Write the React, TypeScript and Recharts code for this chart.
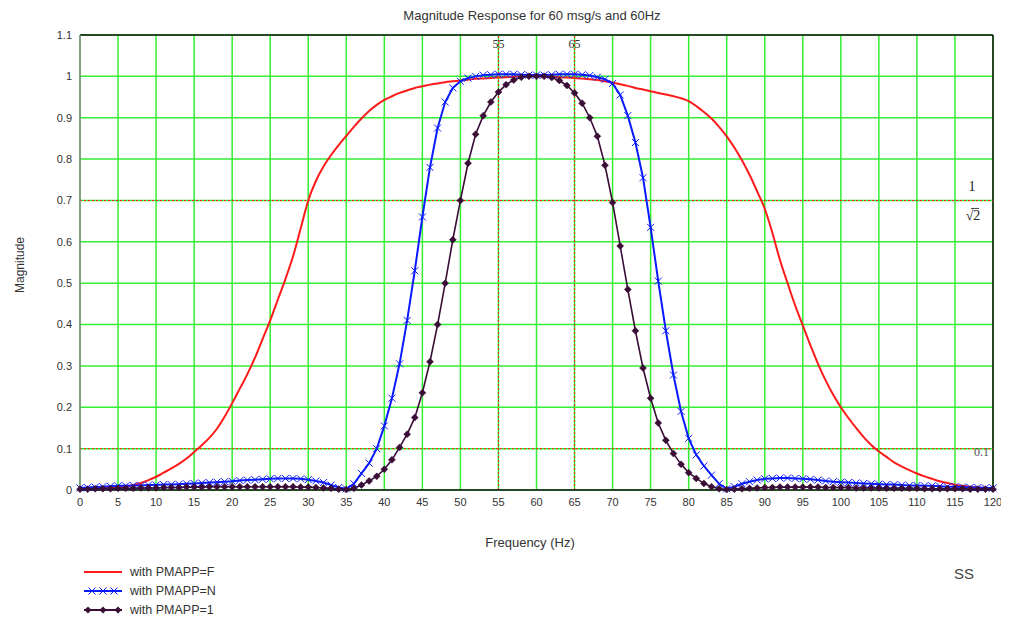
import React from 'react';
import {
  LineChart, Line, XAxis, YAxis, CartesianGrid, ReferenceLine, Legend
} from 'recharts';

// frequency axis, 1 Hz steps from 0 to 120
const freqs: number[] = [
  0, 1, 2, 3, 4, 5, 6, 7, 8, 9, 10, 11, 12, 13, 14, 15, 16, 17, 18, 19,
  20, 21, 22, 23, 24, 25, 26, 27, 28, 29, 30, 31, 32, 33, 34, 35, 36, 37, 38, 39,
  40, 41, 42, 43, 44, 45, 46, 47, 48, 49, 50, 51, 52, 53, 54, 55, 56, 57, 58, 59,
  60, 61, 62, 63, 64, 65, 66, 67, 68, 69, 70, 71, 72, 73, 74, 75, 76, 77, 78, 79,
  80, 81, 82, 83, 84, 85, 86, 87, 88, 89, 90, 91, 92, 93, 94, 95, 96, 97, 98, 99,
  100, 101, 102, 103, 104, 105, 106, 107, 108, 109, 110, 111, 112, 113, 114, 115, 116, 117, 118, 119,
  120,
];

// PMAPP=F (red)
const magF: number[] = [
  0.003, 0.003, 0.004, 0.004, 0.005, 0.006, 0.008, 0.012, 0.017, 0.024,
  0.032, 0.042, 0.052, 0.063, 0.076, 0.092, 0.108, 0.126, 0.148, 0.177,
  0.21, 0.245, 0.28, 0.32, 0.365, 0.41, 0.46, 0.51, 0.565, 0.632,
  0.70, 0.747, 0.782, 0.81, 0.834, 0.856, 0.878, 0.898, 0.916, 0.931,
  0.943, 0.952, 0.96, 0.966, 0.972, 0.976, 0.98, 0.983, 0.986, 0.988,
  0.99, 0.992, 0.994, 0.995, 0.996, 0.997, 0.998, 0.999, 1.0, 1.0,
  1.0, 1.0, 0.999, 0.998, 0.997, 0.996, 0.995, 0.993, 0.991, 0.988,
  0.985, 0.981, 0.977, 0.972, 0.968, 0.964, 0.96, 0.956, 0.952, 0.947,
  0.94, 0.928, 0.914, 0.898, 0.878, 0.855, 0.828, 0.797, 0.762, 0.722,
  0.68, 0.622, 0.556, 0.5, 0.446, 0.398, 0.35, 0.305, 0.265, 0.23,
  0.2, 0.174, 0.15, 0.128, 0.109, 0.093, 0.08, 0.067, 0.057, 0.048,
  0.04, 0.033, 0.027, 0.021, 0.017, 0.013, 0.01, 0.008, 0.006, 0.005,
  0.004,
];

// PMAPP=N (blue)
const magN: number[] = [
  0.005, 0.006, 0.007, 0.008, 0.009, 0.01, 0.01, 0.011, 0.011, 0.012,
  0.012, 0.013, 0.013, 0.014, 0.015, 0.016, 0.017, 0.018, 0.019, 0.02,
  0.021, 0.023, 0.024, 0.025, 0.026, 0.027, 0.028, 0.028, 0.028, 0.027,
  0.025, 0.022, 0.018, 0.012, 0.006, 0.003, 0.015, 0.04, 0.065, 0.1,
  0.155, 0.222, 0.305, 0.41, 0.53, 0.66, 0.78, 0.875, 0.938, 0.972,
  0.988, 0.996, 1.0, 1.003, 1.004, 1.005, 1.005, 1.005, 1.004, 1.003,
  1.003, 1.003, 1.004, 1.005, 1.005, 1.005, 1.004, 1.002, 0.998, 0.993,
  0.983, 0.955, 0.905, 0.84, 0.755, 0.635, 0.505, 0.385, 0.278, 0.19,
  0.125, 0.085, 0.058, 0.036, 0.015, 0.003, 0.008, 0.015, 0.02, 0.024,
  0.027, 0.028, 0.029, 0.029, 0.028, 0.027, 0.026, 0.024, 0.022, 0.02,
  0.019, 0.018, 0.017, 0.016, 0.015, 0.014, 0.013, 0.013, 0.012, 0.011,
  0.011, 0.01, 0.01, 0.009, 0.008, 0.008, 0.007, 0.006, 0.006, 0.005,
  0.005,
];

// PMAPP=1 (dark purple)
const mag1: number[] = [
  0.002, 0.002, 0.003, 0.003, 0.003, 0.004, 0.004, 0.004, 0.005, 0.005,
  0.005, 0.006, 0.006, 0.006, 0.007, 0.007, 0.007, 0.008, 0.008, 0.008,
  0.008, 0.008, 0.008, 0.008, 0.008, 0.008, 0.008, 0.008, 0.008, 0.007,
  0.007, 0.006, 0.005, 0.004, 0.002, 0.001, 0.004, 0.012, 0.022, 0.033,
  0.05, 0.073, 0.103, 0.135, 0.175, 0.235, 0.31, 0.4, 0.5, 0.605,
  0.7, 0.79, 0.86, 0.905, 0.938, 0.962, 0.98, 0.991, 0.998, 1.0,
  1.0, 1.0, 0.997, 0.99, 0.978, 0.96, 0.935, 0.9, 0.855, 0.785,
  0.695, 0.59, 0.485, 0.385, 0.295, 0.222, 0.162, 0.12, 0.088, 0.062,
  0.042, 0.028, 0.016, 0.008, 0.003, 0.001, 0.002, 0.003, 0.004, 0.005,
  0.006, 0.006, 0.007, 0.007, 0.007, 0.007, 0.007, 0.007, 0.006, 0.006,
  0.006, 0.006, 0.005, 0.005, 0.005, 0.005, 0.004, 0.004, 0.004, 0.004,
  0.004, 0.003, 0.003, 0.003, 0.003, 0.003, 0.003, 0.002, 0.002, 0.002,
  0.002,
];

const xTicks: number[] = [0, 5, 10, 15, 20, 25, 30, 35, 40, 45, 50, 55, 60, 65, 70, 75, 80, 85, 90, 95, 100, 105, 110, 115, 120];
const yTicks: number[] = [0, 0.1, 0.2, 0.3, 0.4, 0.5, 0.6, 0.7, 0.8, 0.9, 1, 1.1];

const data = freqs.map((f, i) => ({ f, F: magF[i], N: magN[i], P1: mag1[i] }));

const FONT = '"Liberation Sans", Arial, sans-serif';
const SERIF = '"Liberation Serif", "DejaVu Serif", serif';
const GRID = '#33ee33';
const RED = '#ff1a1a';
const BLUE = '#0a1aff';
const PURPLE = '#3a0d36';

const CrossDot = (props: any) => {
  const { cx, cy, index } = props;
  if (cx == null || cy == null) return <g key={`c${index}`} />;
  const s = 3.5;
  return (
    <path
      key={`c${index}`}
      d={`M${cx - s},${cy - s}L${cx + s},${cy + s}M${cx - s},${cy + s}L${cx + s},${cy - s}`}
      stroke={BLUE}
      strokeWidth={1}
      fill="none"
    />
  );
};

const DiamondDot = (props: any) => {
  const { cx, cy, index } = props;
  if (cx == null || cy == null) return <g key={`d${index}`} />;
  const s = 3.5;
  return (
    <path
      key={`d${index}`}
      d={`M${cx},${cy - s}L${cx + s},${cy}L${cx},${cy + s}L${cx - s},${cy}Z`}
      fill={PURPLE}
      stroke={PURPLE}
      strokeWidth={0.5}
    />
  );
};

const SqrtLabel = (props: any) => {
  const { viewBox } = props;
  const right = viewBox.x + viewBox.width;
  const y = viewBox.y;
  const cx = right - 21;
  return (
    <g fontFamily={SERIF} fill="#222">
      <text x={cx} y={y - 9} textAnchor="middle" fontSize={14}>1</text>
      <text x={cx + 1} y={y + 20} textAnchor="middle" fontSize={14}>√2</text>
      <line x1={cx - 1} x2={cx + 7} y1={y + 8} y2={y + 8} stroke="#222" strokeWidth={0.8} />
    </g>
  );
};

const LegendBox = () => {
  const rows = [
    { name: 'with PMAPP=F', color: RED, marker: 'none' },
    { name: 'with PMAPP=N', color: BLUE, marker: 'cross' },
    { name: 'with PMAPP=1', color: PURPLE, marker: 'diamond' },
  ];
  return (
    <div style={{ fontFamily: FONT, fontSize: 12.5, color: '#333' }}>
      {rows.map((r) => (
        <div key={r.name} style={{ display: 'flex', alignItems: 'center', height: 19 }}>
          <svg width={44} height={12} style={{ marginRight: 4 }}>
            <line x1={2} x2={40} y1={6} y2={6} stroke={r.color} strokeWidth={2} />
            {r.marker === 'cross' && [10, 21, 32].map((x) => (
              <path key={x} d={`M${x - 3.5},2.5L${x + 3.5},9.5M${x - 3.5},9.5L${x + 3.5},2.5`} stroke={r.color} strokeWidth={1} />
            ))}
            {r.marker === 'diamond' && [6, 21, 36].map((x) => (
              <path key={x} d={`M${x},2.5L${x + 3.5},6L${x},9.5L${x - 3.5},6Z`} fill={r.color} />
            ))}
          </svg>
          <span>{r.name}</span>
        </div>
      ))}
    </div>
  );
};

export default function App() {
  return (
    <div style={{ position: 'relative', width: 1000, height: 610, background: '#fff' }}>
      <div style={{ position: 'absolute', left: 0, width: 1048, top: 0, textAlign: 'center', fontFamily: FONT, fontSize: 13, color: '#333' }}>
        Magnitude Response for 60 msg/s and 60Hz
      </div>
      <div style={{ position: 'absolute', left: 12, top: 257, transform: 'translate(-50%, -50%) rotate(-90deg)', fontFamily: FONT, fontSize: 12, color: '#333', whiteSpace: 'nowrap' }}>
        Magnitude
      </div>
      <div style={{ position: 'absolute', left: 0, width: 1044, top: 527, textAlign: 'center', fontFamily: FONT, fontSize: 13, color: '#333' }}>
        Frequency (Hz)
      </div>
      <div style={{ position: 'absolute', left: 946, top: 557, fontFamily: FONT, fontSize: 15, color: '#444' }}>
        SS
      </div>
      <LineChart width={1000} height={610} data={data} margin={{ top: 27, right: 15, bottom: 98, left: 22 }}>
        <CartesianGrid stroke={GRID} strokeWidth={1.5} />
        <XAxis
          dataKey="f"
          type="number"
          domain={[0, 120]}
          ticks={xTicks}
          interval={0}
          tickLine={false}
          axisLine={{ stroke: '#111', strokeWidth: 1.5 }}
          tick={{ fill: '#333', fontSize: 11, fontFamily: FONT }}
          height={30}
        />
        <YAxis
          type="number"
          domain={[0, 1.1]}
          ticks={yTicks}
          interval={0}
          width={50}
          tickLine={false}
          axisLine={{ stroke: '#888', strokeWidth: 1.5 }}
          tick={{ fill: '#333', fontSize: 11, fontFamily: FONT }}
          tickFormatter={(v: number) => String(v)}
        />
        <ReferenceLine y={1.1} stroke="#111" strokeWidth={1.5} />
        <ReferenceLine x={120} stroke="#111" strokeWidth={1.5} />
        <ReferenceLine
          x={55}
          stroke={RED}
          strokeDasharray="2 2"
          label={{ value: '55', position: 'insideTop', offset: 4, fill: '#333', fontSize: 12, fontFamily: SERIF }}
        />
        <ReferenceLine
          x={65}
          stroke={RED}
          strokeDasharray="2 2"
          label={{ value: '65', position: 'insideTop', offset: 4, fill: '#333', fontSize: 12, fontFamily: SERIF }}
        />
        <ReferenceLine y={0.7} stroke={RED} strokeDasharray="2 2" label={<SqrtLabel />} />
        <ReferenceLine
          y={0.1}
          stroke={RED}
          strokeDasharray="2 2"
          label={{ value: '0.1', position: 'insideRight', offset: 4, dy: 3, fill: '#555', fontSize: 12, fontFamily: SERIF }}
        />
        <Line dataKey="F" stroke={RED} strokeWidth={2} dot={false} isAnimationActive={false} type="monotone" />
        <Line dataKey="N" stroke={BLUE} strokeWidth={2} dot={CrossDot} isAnimationActive={false} type="linear" />
        <Line dataKey="P1" stroke={PURPLE} strokeWidth={1.6} dot={DiamondDot} isAnimationActive={false} type="linear" />
        <Legend
          layout="vertical"
          verticalAlign="middle"
          align="center"
          content={<LegendBox />}
          wrapperStyle={{ left: 74, top: 554, width: 200, height: 60 }}
        />
      </LineChart>
    </div>
  );
}
